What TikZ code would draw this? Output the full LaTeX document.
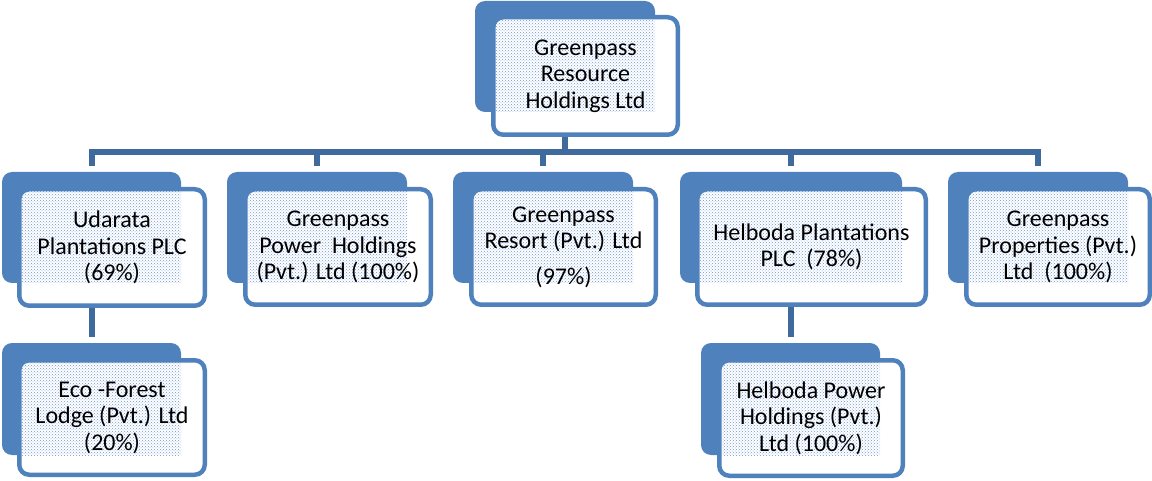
\documentclass[tikz,border=0pt]{standalone}
\usepackage{fontspec}
\setmainfont{Carlito}
\usetikzlibrary{fit,patterns}
\pgfdeclarelayer{bgzero}
\pgfdeclarelayer{background}
\pgfsetlayers{bgzero,background,main}
\definecolor{boxblue}{RGB}{79,129,189}
\definecolor{conblue}{RGB}{63,106,158}
\definecolor{dotblue}{RGB}{112,152,212}
\tikzset{
  backbox/.style={fill=boxblue, draw=none, rounded corners=10pt, inner sep=0pt, outer sep=0pt},
  frontbox/.style={draw=boxblue, line width=4.5pt, rounded corners=10pt, inner sep=0pt, outer sep=0pt},
  boxtext/.style={align=center, inner sep=0pt, font=\fontsize{24}{26.5}\selectfont, text=black, anchor=center},
  dotfill/.style={pattern=crosshatch dots, pattern color=dotblue},
  conn/.style={draw=conblue, line width=6pt, line join=miter}
}
\newcommand\orgbox[6]{%
  \node[frontbox, fit={(#4)(#5)}] (#1f) {};
  \node[boxtext] (#1t) at (#1f.center) {#6};
  \begin{pgfonlayer}{background}
    \node[backbox, fit={(#2)(#3)}] (#1b) {};
    \fill[white, rounded corners=9pt] (#1f.north west) rectangle (#1f.south east);
    \fill[dotfill] ([xshift=2.5pt,yshift=-2.5pt]#1f.north west) rectangle (#1b.south east);
  \end{pgfonlayer}}
\begin{document}
\begin{tikzpicture}[x=1pt,y=-1pt]
\useasboundingbox (0,0) rectangle (1152,481);
\orgbox{top}{475,1}{655,112}{493.25,17.25}{677.75,134.75}{Greenpass\\Resource\\Holdings Ltd}
\orgbox{u}{2,172}{181,283}{19.25,189.25}{204.75,305.75}{Udarata\\Plantations PLC\\(69\%)}
\orgbox{p}{227,172}{407,283}{245.25,189.25}{430.75,304.75}{Greenpass\\Power\ \ Holdings\\(Pvt.) Ltd (100\%)}
\orgbox{r}{453,172}{633,283}{471.25,189.25}{655.75,304.75}{Greenpass\\Resort (Pvt.) Ltd\\[9pt](97\%)}
\orgbox{h}{680,172}{902,283}{697.25,189.25}{925.75,304.75}{Helboda Plantations\\PLC\ \ (78\%)}
\orgbox{pr}{948,172}{1128,283}{966.25,189.25}{1149.75,304.75}{Greenpass\\Properties (Pvt.)\\Ltd\ \ (100\%)}
\orgbox{e}{2,343}{181,455}{19.25,360.25}{204.75,474.75}{Eco -Forest\\Lodge (Pvt.) Ltd\\(20\%)}
\orgbox{hp}{701,343}{880,455}{719.25,360.25}{902.75,475.75}{Helboda Power\\Holdings (Pvt.)\\Ltd (100\%)}
\begin{pgfonlayer}{bgzero}
  \coordinate (bar) at (565,152);
  \draw[conn] (topb.south) -- (topb.south |- bar);
  \draw[conn] ([yshift=6pt]ub.north) |- (bar) -| ([yshift=6pt]prb.north);
  \draw[conn] (pb.north |- bar) -- ([yshift=6pt]pb.north);
  \draw[conn] (rb.north |- bar) -- ([yshift=6pt]rb.north);
  \draw[conn] (hb.north |- bar) -- ([yshift=6pt]hb.north);
  \draw[conn] (ub.south) -- ([yshift=6pt]eb.north);
  \draw[conn] (hb.south) -- ([yshift=6pt]hb.south |- hpb.north);
\end{pgfonlayer}
\end{tikzpicture}
\end{document}
